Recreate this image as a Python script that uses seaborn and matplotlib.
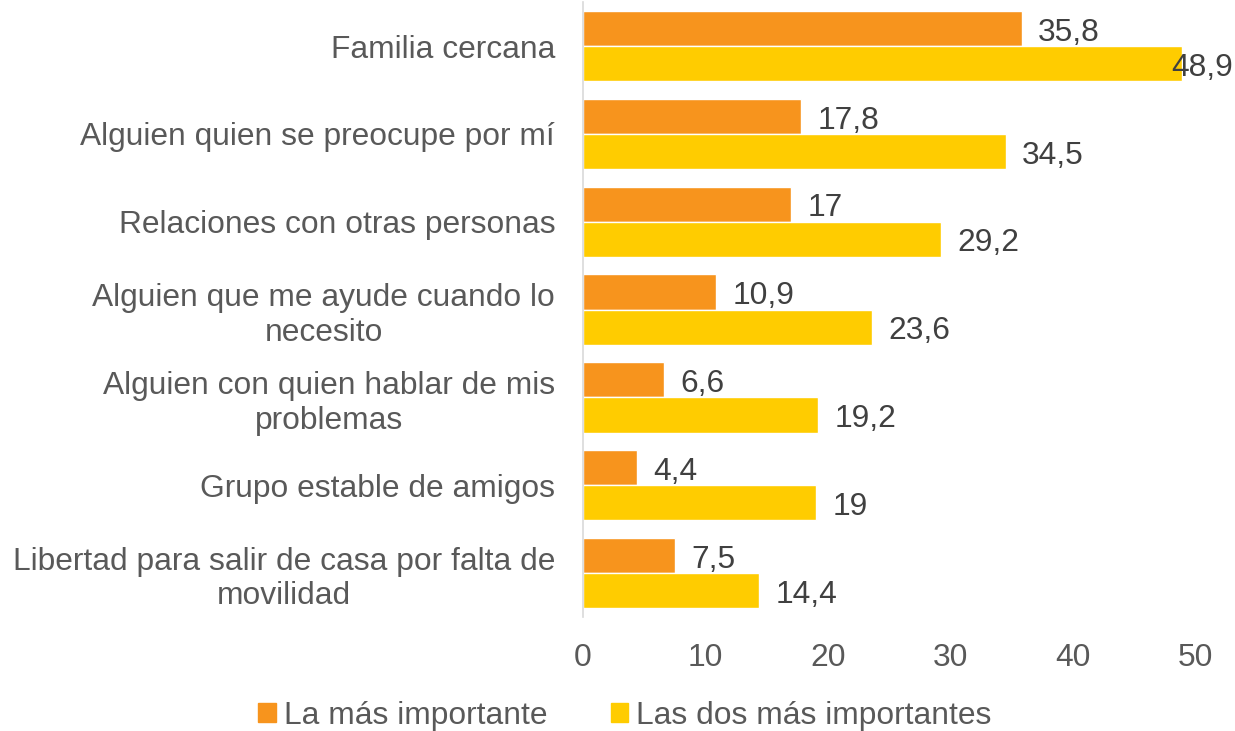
import pandas as pd
import matplotlib.pyplot as plt
import seaborn as sns

# Datos
categorias = [
    "Familia cercana",
    "Alguien quien se preocupe por mí",
    "Relaciones con otras personas",
    "Alguien que me ayude cuando lo\nnecesito",
    "Alguien con quien hablar de mis\nproblemas",
    "Grupo estable de amigos",
    "Libertad para salir de casa por falta de\nmovilidad",
]
series = ["La más importante", "Las dos más importantes"]
la_mas = [35.8, 17.8, 17.0, 10.9, 6.6, 4.4, 7.5]
las_dos = [48.9, 34.5, 29.2, 23.6, 19.2, 19.0, 14.4]
colores = ["#F7941D", "#FFCC00"]

df = pd.DataFrame({
    "categoria": categorias * 2,
    "serie": [series[0]] * len(categorias) + [series[1]] * len(categorias),
    "valor": la_mas + las_dos,
})

sns.set_style("white")
plt.rcParams["font.family"] = ["Liberation Sans", "DejaVu Sans"]
fs = 22.9

fig = plt.figure(figsize=(12.35, 7.31), dpi=100)
ax = fig.add_axes([0.472, 0.156, 0.496, 0.841])

sns.barplot(data=df, y="categoria", x="valor", hue="serie", orient="h",
            palette=colores, saturation=1, width=0.8, ax=ax, legend=False)

# Etiquetas de datos con coma decimal
for cont in ax.containers:
    anns = ax.bar_label(cont, labels=[f"{v:g}".replace(".", ",") for v in cont.datavalues],
                        padding=12, fontsize=fs, color="#404040")
    for ann, v in zip(anns, cont.datavalues):
        ann.xyann = (-8 if v > 45 else 12, -3)

ax.set_xlim(0, 50)
ax.set_ylim(6.5, -0.5)
ax.set_xticks([0, 10, 20, 30, 40, 50])
ax.set_xlabel("")
ax.set_ylabel("")
ax.tick_params(axis="x", labelsize=fs, labelcolor="#595959", length=0, pad=19)
ax.tick_params(axis="y", labelsize=fs, labelcolor="#595959", length=0, pad=20)
for lbl in ax.get_yticklabels():
    lbl.set_multialignment("center")

for s in ["top", "right", "bottom"]:
    ax.spines[s].set_visible(False)
ax.spines["left"].set_color("#D9D9D9")
ax.spines["left"].set_linewidth(1.2)

handles = [plt.Rectangle((0, 0), 1, 1, color=c) for c in colores]
fig.legend(handles, series, loc="lower center", bbox_to_anchor=(0.506, 0.0),
           ncol=2, frameon=False, fontsize=fs, labelcolor="#595959",
           handlelength=0.55, handleheight=0.55, handletextpad=0.25,
           columnspacing=2.0, borderaxespad=0, borderpad=0.0)

fig.savefig("out.png", dpi=100)
